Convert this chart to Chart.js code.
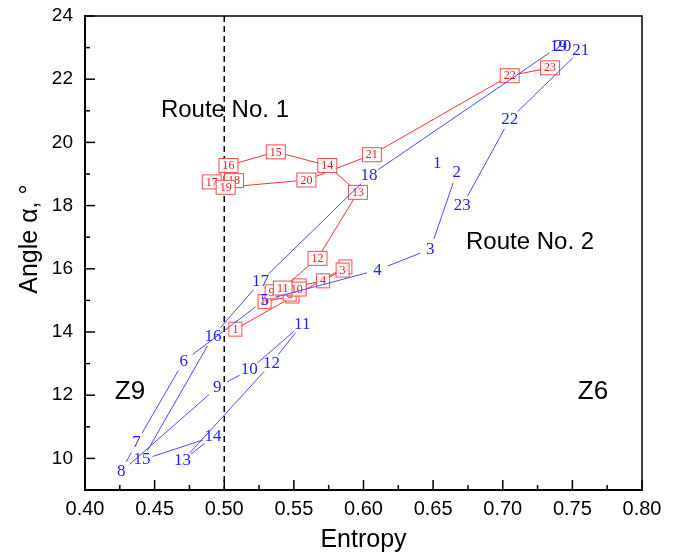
<!DOCTYPE html>
<html>
<head>
<meta charset="utf-8">
<script src="https://cdn.jsdelivr.net/npm/chart.js@4"></script>
<style>
  body { margin: 0; background: #fff; }
  #wrap { width: 683px; height: 553px; }
</style>
</head>
<body>
<div id="wrap"><canvas id="entropyChart"></canvas></div>
<script>
// Route No. 1 (red boxes), points 1..23
const route1X = [0.508, 0.587, 0.585, 0.571, 0.554, 0.529, 0.549, 0.547, 0.534, 0.552, 0.542, 0.567,
                 0.596, 0.574, 0.537, 0.503, 0.491, 0.507, 0.501, 0.559, 0.606, 0.705, 0.734];
const route1Y = [14.09, 16.06, 15.96, 15.62, 15.46, 14.96, 15.14, 15.20, 15.27, 15.36, 15.39, 16.33,
                 18.42, 19.27, 19.70, 19.27, 18.75, 18.79, 18.58, 18.81, 19.61, 22.11, 22.36];

// Route No. 2 (blue numbers), points 1..23
const route2X = [0.653, 0.667, 0.648, 0.610, 0.529, 0.471, 0.437, 0.426, 0.495, 0.518, 0.556, 0.534,
                 0.470, 0.492, 0.441, 0.492, 0.526, 0.604, 0.740, 0.743, 0.756, 0.705, 0.671];
const route2Y = [19.34, 19.05, 16.62, 15.96, 15.01, 13.08, 10.50, 9.58, 12.25, 12.80, 14.25, 13.01,
                 9.92, 10.69, 9.95, 13.87, 15.59, 18.94, 23.03, 23.03, 22.92, 20.73, 18.00];

const xTicks = [0.40, 0.45, 0.50, 0.55, 0.60, 0.65, 0.70, 0.75, 0.80];
const yTicks = [10, 12, 14, 16, 18, 20, 22, 24];

const notes = [
  { text: "Route No. 1", x: 0.5005, y: 21.0, size: 24 },
  { text: "Route No. 2", x: 0.7196, y: 16.85, size: 24 },
  { text: "Z9", x: 0.4323, y: 12.1, size: 26 },
  { text: "Z6", x: 0.7648, y: 12.1, size: 26 }
];

const toPoints = (xs, ys) => xs.map((x, i) => ({ x: x, y: ys[i] }));

const decor = {
  id: "decor",
  beforeDatasetsDraw(chart) {
    const { ctx, chartArea: a, scales: { x, y } } = chart;
    ctx.save();
    // frame top/right
    ctx.strokeStyle = "#000";
    ctx.lineWidth = 1.5;
    ctx.beginPath();
    ctx.moveTo(a.left, a.top); ctx.lineTo(a.right, a.top); ctx.lineTo(a.right, a.bottom);
    ctx.stroke();
    // inward ticks
    for (let v = 0.4; v <= 0.8001; v += 0.025) {
      const px = x.getPixelForValue(v);
      const major = Math.abs(Math.round(v / 0.05) * 0.05 - v) < 1e-6;
      ctx.beginPath(); ctx.moveTo(px, a.bottom); ctx.lineTo(px, a.bottom - (major ? 10 : 5)); ctx.stroke();
    }
    for (let v = 9; v <= 24; v++) {
      const py = y.getPixelForValue(v);
      ctx.beginPath(); ctx.moveTo(a.left, py); ctx.lineTo(a.left + (v % 2 === 0 ? 10 : 5), py); ctx.stroke();
    }
    // dashed line at entropy 0.50
    const dx = x.getPixelForValue(0.5);
    ctx.setLineDash([6, 4]);
    ctx.beginPath(); ctx.moveTo(dx, a.top); ctx.lineTo(dx, a.bottom); ctx.stroke();
    ctx.setLineDash([]);
    // text notes
    ctx.fillStyle = "#000";
    ctx.textAlign = "center";
    ctx.textBaseline = "middle";
    notes.forEach(n => {
      ctx.font = n.size + "px 'Liberation Sans', Arial, sans-serif";
      ctx.fillText(n.text, x.getPixelForValue(n.x), y.getPixelForValue(n.y));
    });
    ctx.restore();
  },
  afterDatasetsDraw(chart) {
    const { ctx } = chart;
    ctx.save();
    ctx.textAlign = "center";
    ctx.textBaseline = "middle";
    // red boxes
    const red = chart.getDatasetMeta(0).data;
    ctx.font = "12px 'Liberation Serif', 'Times New Roman', serif";
    red.forEach((p, i) => {
      const label = String(i + 1);
      const w = ctx.measureText(label).width + 7;
      const h = 14;
      ctx.fillStyle = "rgba(255,255,255,0.85)";
      ctx.fillRect(p.x - w / 2, p.y - h / 2, w, h);
      ctx.strokeStyle = "#ff4a4a";
      ctx.lineWidth = 1;
      ctx.strokeRect(p.x - w / 2, p.y - h / 2, w, h);
      ctx.fillStyle = "#e02020";
      ctx.fillText(label, p.x, p.y + 0.5);
    });
    // blue line with gaps around the numbers
    const blue = chart.getDatasetMeta(1).data;
    const gap = 11;
    ctx.strokeStyle = "#4a4aff";
    ctx.lineWidth = 1;
    for (let i = 0; i < blue.length - 1; i++) {
      const p = blue[i], q = blue[i + 1];
      const dx = q.x - p.x, dy = q.y - p.y;
      const len = Math.hypot(dx, dy);
      if (len <= gap * 2) continue;
      const ux = dx / len, uy = dy / len;
      ctx.beginPath();
      ctx.moveTo(p.x + ux * gap, p.y + uy * gap);
      ctx.lineTo(q.x - ux * gap, q.y - uy * gap);
      ctx.stroke();
    }
    ctx.font = "17px 'Liberation Serif', 'Times New Roman', serif";
    ctx.fillStyle = "#1f1fff";
    blue.forEach((p, i) => ctx.fillText(String(i + 1), p.x, p.y));
    ctx.restore();
  }
};

const ctx = document.getElementById("entropyChart").getContext("2d");
const chart = new Chart(ctx, {
  type: "scatter",
  data: {
    datasets: [
      {
        label: "Route No. 1",
        data: toPoints(route1X, route1Y),
        showLine: true,
        borderColor: "#ff3030",
        borderWidth: 1,
        pointRadius: 0,
        tension: 0
      },
      {
        label: "Route No. 2",
        data: toPoints(route2X, route2Y),
        showLine: false,
        pointRadius: 0
      }
    ]
  },
  options: {
    responsive: true,
    maintainAspectRatio: false,
    animation: false,
    layout: { padding: { top: 16, right: 41, left: 0, bottom: 0 } },
    plugins: { legend: { display: false }, tooltip: { enabled: false } },
    scales: {
      x: {
        type: "linear",
        min: 0.4,
        max: 0.8,
        afterFit: s => { s.height = 63; s.paddingLeft = 0; s.paddingRight = 0; },
        afterBuildTicks: s => { s.ticks = xTicks.map(v => ({ value: v })); },
        grid: { display: false, drawTicks: false },
        border: { display: true, color: "#000", width: 2 },
        ticks: {
          padding: 7,
          maxRotation: 0,
          autoSkip: false,
          color: "#000",
          font: { family: "'Liberation Sans', Arial, sans-serif", size: 20 },
          callback: v => v.toFixed(2)
        },
        title: {
          display: true,
          text: "Entropy",
          color: "#000",
          padding: { top: 0, bottom: 0 },
          font: { family: "'Liberation Sans', Arial, sans-serif", size: 25, lineHeight: 1 }
        }
      },
      y: {
        type: "linear",
        min: 9,
        max: 24,
        afterFit: s => { s.width = 85; s.paddingTop = 0; s.paddingBottom = 0; },
        afterBuildTicks: s => { s.ticks = yTicks.map(v => ({ value: v })); },
        grid: { display: false, drawTicks: false },
        border: { display: true, color: "#000", width: 2 },
        ticks: {
          padding: 12,
          color: "#000",
          font: { family: "'Liberation Sans', Arial, sans-serif", size: 19 }
        },
        title: {
          display: true,
          text: "    Angle α, °",
          color: "#000",
          padding: { top: 18, bottom: 0 },
          font: { family: "'Liberation Sans', Arial, sans-serif", size: 25, lineHeight: 1 }
        }
      }
    }
  },
  plugins: [decor]
});
</script>
</body>
</html>
